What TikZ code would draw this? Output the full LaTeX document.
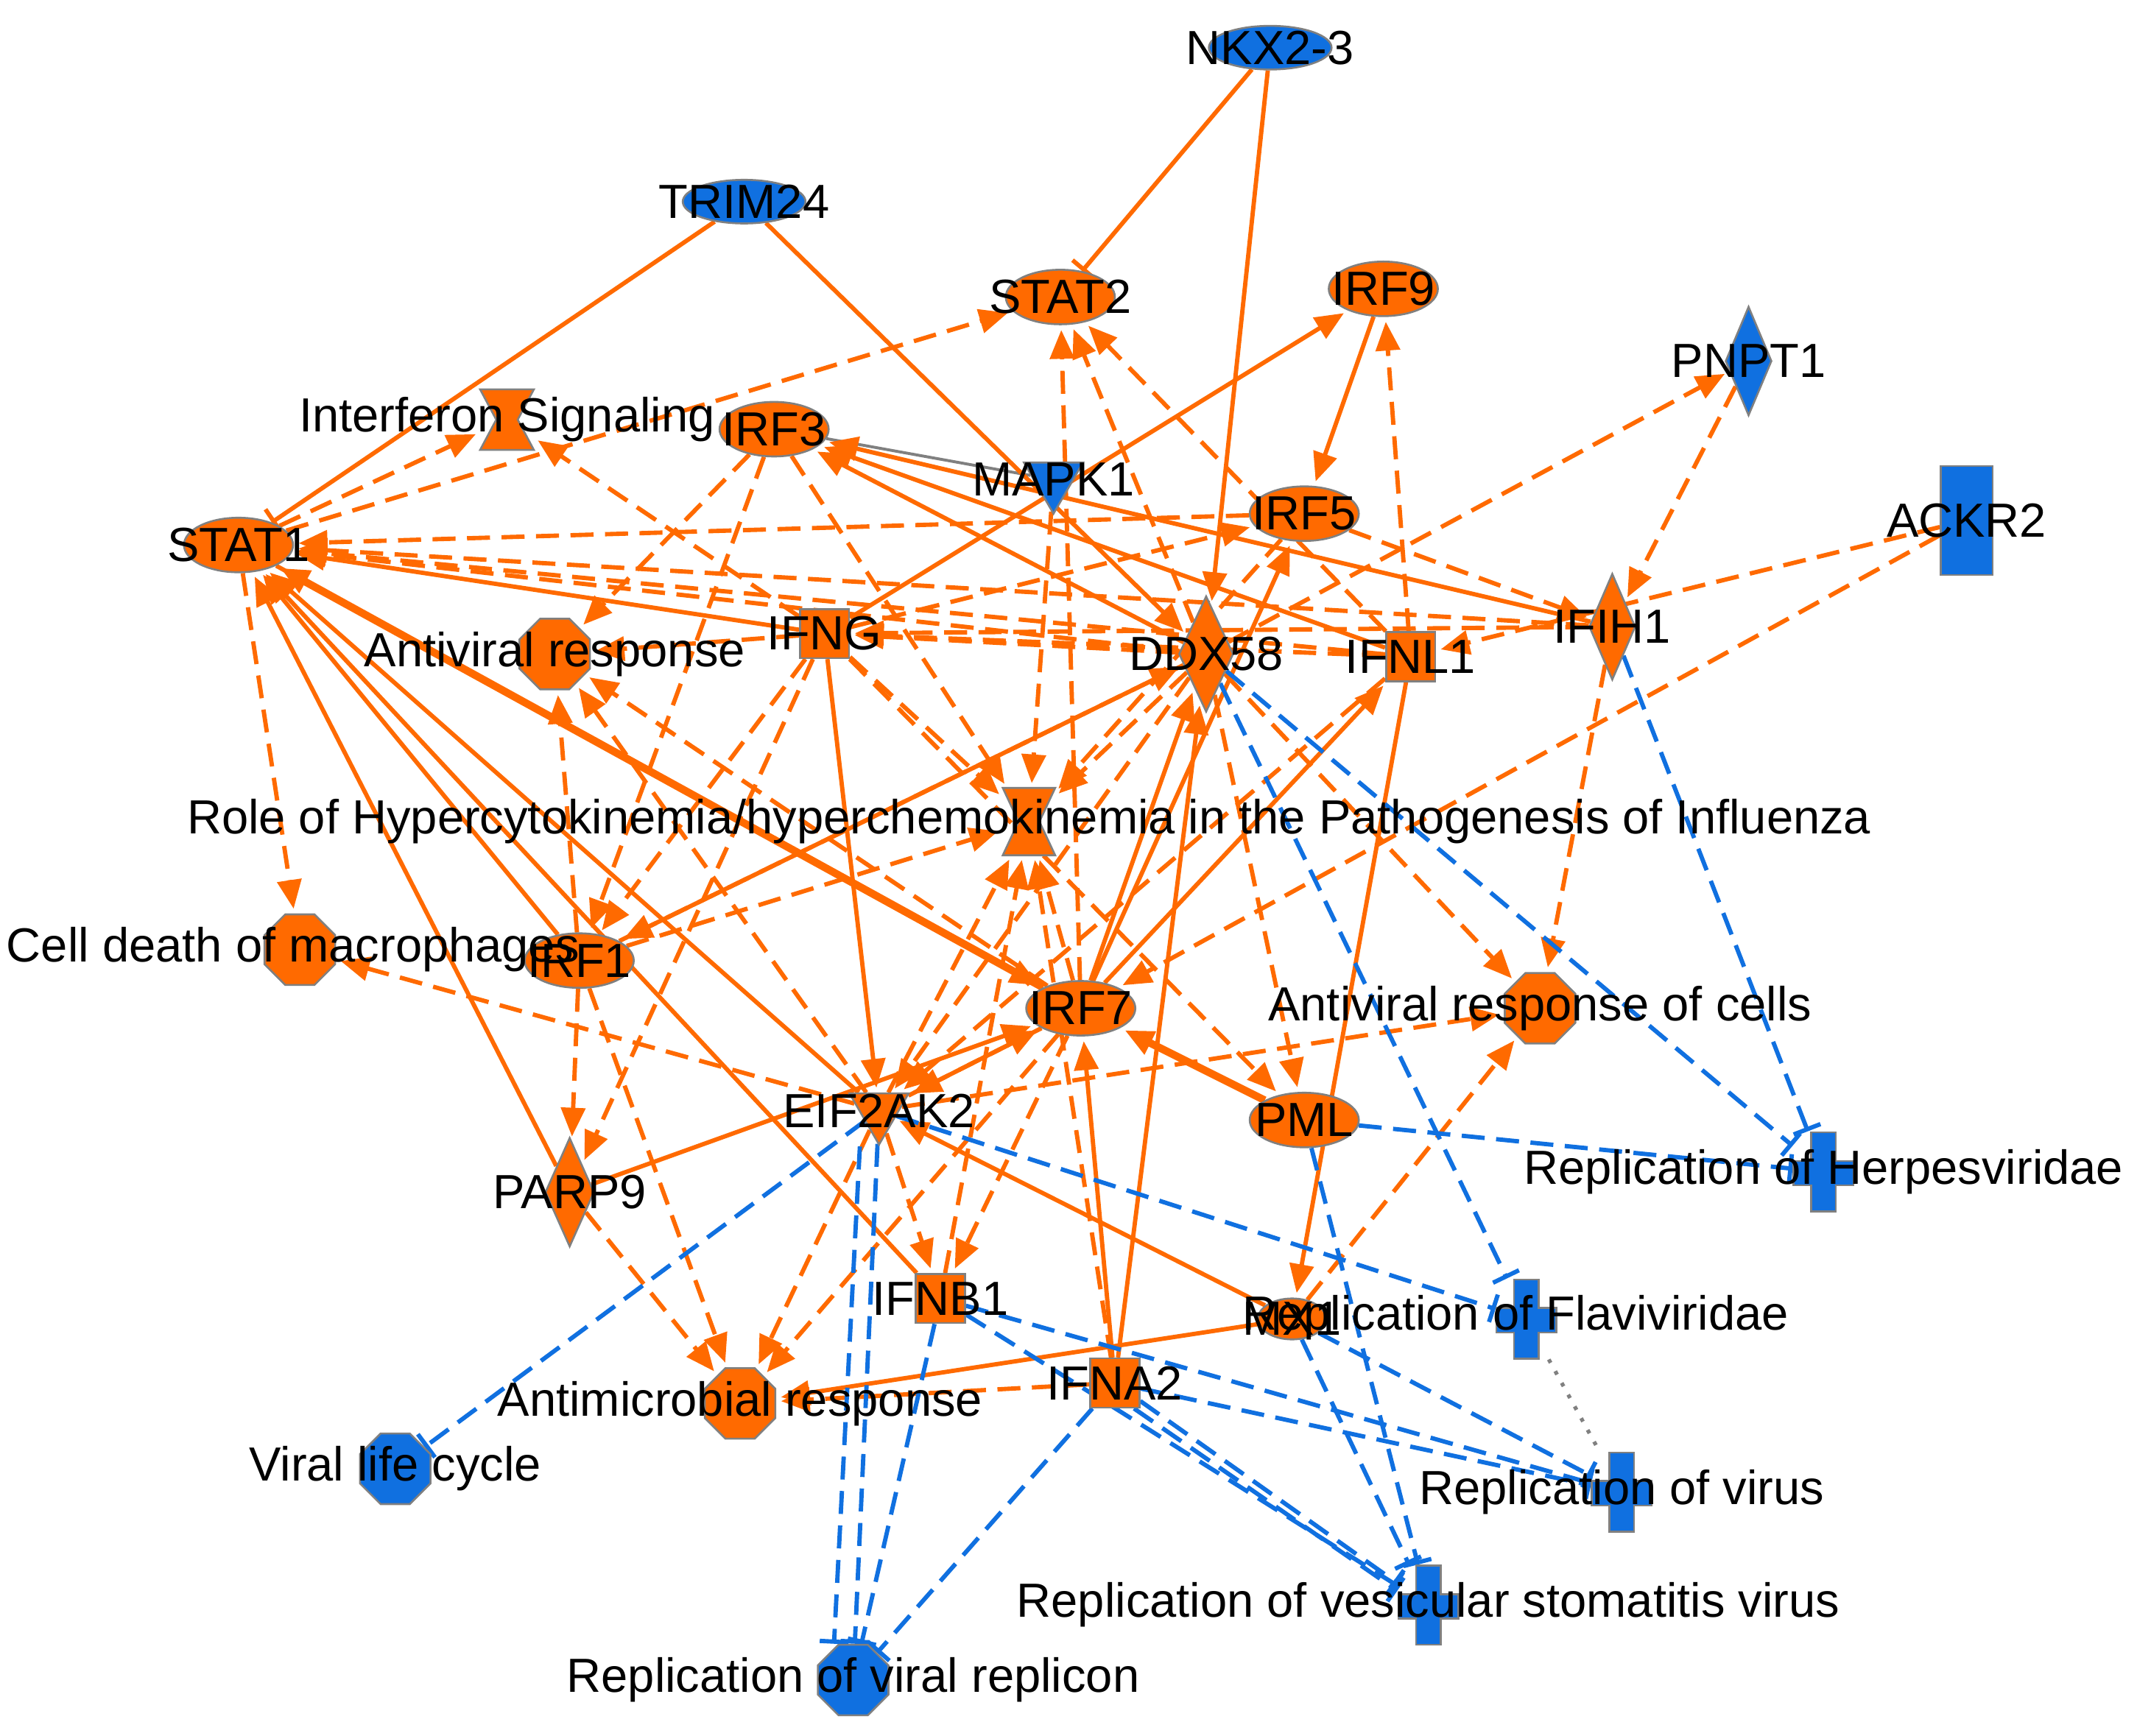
\documentclass[tikz,border=0pt]{standalone}
\usepackage{fontspec}
\setmainfont{Liberation Sans}
\usetikzlibrary{shapes.geometric,arrows.meta,calc}
\pgfdeclarelayer{bg}
\pgfsetlayers{bg,main}
\definecolor{orn}{RGB}{255,106,0}
\definecolor{blu}{RGB}{16,112,224}
\tikzset{
 ell/.style={ellipse,fill=#1,draw=gray,line width=0.4pt,minimum width=0.8cm,minimum height=0.4cm,inner sep=0pt},
 octo/.style={regular polygon,regular polygon sides=8,fill=#1,draw=gray,line width=0.4pt,minimum size=0.56cm,inner sep=0pt},
 sq/.style={rectangle,fill=orn,draw=gray,line width=0.4pt,minimum size=0.36cm,inner sep=0pt},
 dia/.style={diamond,fill=#1,draw=gray,line width=0.4pt,minimum width=0.4cm,minimum height=0.85cm,inner sep=0pt},
 tri/.style={regular polygon,regular polygon sides=3,shape border rotate=180,fill=#1,draw=gray,line width=0.4pt,minimum size=0.5cm,inner sep=0pt},
 box/.style={rectangle,inner sep=0pt,minimum width=#1},
 lbl/.style={font=\fontsize{10}{12}\selectfont,inner sep=0pt},
 os/.style={orn,line width=0.9pt,-{Triangle[length=6pt,width=5pt]},shorten >=1pt},
 od/.style={os,dash pattern=on 4.8pt off 2.4pt},
 obar/.style={orn,line width=0.9pt,-{Bar[width=6pt]}},
 bb/.style={blu,line width=0.9pt,dash pattern=on 4.8pt off 2.4pt,-{Bar[width=6pt]}},
}
\newcommand\hglass[1]{\filldraw[fill=orn,draw=gray,line width=0.4pt] (#1.north west) -- (#1.north east) -- ($(#1.east)!0.3!(#1.west)$) -- (#1.south east) -- (#1.south west) -- ($(#1.west)!0.3!(#1.east)$) -- cycle;}
\newcommand\pluss[1]{\filldraw[fill=blu,draw=gray,line width=0.4pt] ($(#1)+(-0.09cm,0.29cm)$) -- ($(#1)+(0.09cm,0.29cm)$) -- ($(#1)+(0.09cm,0.08cm)$) -- ($(#1)+(0.22cm,0.08cm)$) -- ($(#1)+(0.22cm,-0.1cm)$) -- ($(#1)+(0.09cm,-0.1cm)$) -- ($(#1)+(0.09cm,-0.29cm)$) -- ($(#1)+(-0.09cm,-0.29cm)$) -- ($(#1)+(-0.09cm,-0.1cm)$) -- ($(#1)+(-0.22cm,-0.1cm)$) -- ($(#1)+(-0.22cm,0.08cm)$) -- ($(#1)+(-0.09cm,0.08cm)$) -- cycle;}
\begin{document}
\begin{tikzpicture}[x=0.01cm,y=-0.01cm]
\useasboundingbox (0,0) rectangle (1568,1274);
% shapes
\node[ell=blu,minimum width=0.9cm,minimum height=0.32cm] (nkx) at (932,35) {};
\node[ell=blu,minimum width=0.9cm,minimum height=0.32cm] (trim) at (546,148) {};
\node[ell=orn] (stat2) at (778,218) {};
\node[ell=orn] (irf9) at (1015,212) {};
\node[dia=blu,minimum width=0.34cm,minimum height=0.8cm] (pnpt) at (1283,265) {};
\node[box=0.38cm,minimum height=0.43cm] (ifs) at (372,308) {}; \hglass{ifs}
\node[ell=orn] (irf3) at (568,315) {};
\node[tri=blu] (mapk) at (773,352) {};
\node[ell=orn] (irf5) at (957,377) {};
\node[rectangle,fill=blu,draw=gray,minimum width=0.38cm,minimum height=0.8cm,inner sep=0pt] (ackr) at (1443,382) {};
\node[ell=orn] (stat1) at (175,400) {};
\node[sq] (ifng) at (605,465) {};
\node[octo=orn] (avr) at (407,480) {};
\node[dia=orn] (ddx) at (885,480) {};
\node[sq] (ifnl) at (1035,482) {};
\node[dia=orn,minimum height=0.78cm,minimum width=0.34cm] (ifih) at (1183,460) {};
\node[box=0.37cm,minimum height=0.48cm] (role) at (755,603) {}; \hglass{role}
\node[octo=orn] (cdm) at (220,697) {};
\node[ell=orn] (irf1) at (425,705) {};
\node[ell=orn] (irf7) at (793,740) {};
\node[octo=orn] (avc) at (1130,740) {};
\node[ell=orn] (pml) at (957,822) {};
\node[tri=orn] (eif) at (645,815) {};
\node[dia=orn,minimum height=0.8cm,minimum width=0.36cm] (parp) at (418,875) {};
\node[box=0.44cm,minimum height=0.58cm] (herp) at (1338,860) {}; \pluss{herp}
\node[sq] (ifnb) at (690,953) {};
\node[ell=orn,minimum width=0.5cm,minimum height=0.3cm] (mx1) at (948,968) {};
\node[box=0.44cm,minimum height=0.58cm] (flav) at (1120,968) {}; \pluss{flav}
\node[octo=orn] (amr) at (543,1030) {};
\node[sq] (ifna) at (818,1015) {};
\node[octo=blu] (vlc) at (290,1078) {};
\node[box=0.44cm,minimum height=0.58cm] (rov) at (1190,1095) {}; \pluss{rov}
\node[box=0.44cm,minimum height=0.58cm] (vsv) at (1048,1178) {}; \pluss{vsv}
\node[octo=blu] (repl) at (626,1233) {};
% edges
\begin{pgfonlayer}{bg}
\draw[obar] (nkx) -- (stat2);
\draw[obar] (trim) -- (stat1);
\draw[gray,line width=0.6pt] (irf3) -- (mapk);
\foreach \a/\b in {nkx/ddx,trim/ddx,irf9/irf5,ifng/irf9,ddx/irf3,ifnl/irf3,ifih/irf3,ifng/stat1,parp/stat1,irf1/stat1,ifnb/stat1,eif/stat1,irf7/ddx,irf7/irf5,irf7/ifnl,ifna/irf7,eif/irf7,ifna/ddx,irf1/ddx,parp/irf7,ifng/eif,mx1/eif,ifnl/mx1,mx1/amr}
  \draw[os] (\a) -- (\b);
\draw[os,line width=1.6pt] (irf7) -- (stat1);
\draw[os,line width=1.6pt] (pml) -- (irf7);
\foreach \a/\b in {stat1/ifs,stat1/stat2,stat1/cdm,ifng/avr,irf1/avr,irf7/avr,eif/avr,irf3/avr,irf3/irf1,ifng/ifs,ddx/stat1,ifnl/stat1,ifih/stat1,irf5/stat1,irf7/stat2,ddx/stat2,ifnl/stat2,ifnl/irf9,ifng/irf5,ifnl/ifng,ddx/ifng,ifih/ifng,pnpt/ifih,ddx/pnpt,ackr/ifnl,ackr/irf7,ifih/avc,ddx/avc,eif/avc,mx1/avc,irf5/ifih,ifng/role,irf3/role,mapk/role,ddx/role,irf5/role,irf7/role,eif/role,ifnb/role,ifna/role,irf1/role,parp/amr,irf1/amr,eif/amr,irf7/amr,ifna/amr,irf1/parp,ifng/parp,ifng/irf1,eif/cdm,irf7/eif,ddx/eif,ifnl/eif,irf7/ifnb,eif/ifnb,ddx/pml,ifng/pml,ddx/irf1,stat1/irf7}
  \draw[od] (\a) -- (\b);
\foreach \a/\b in {ddx/herp,ifih/herp,pml/herp,ddx/flav,eif/flav,ifnb/rov,ifna/rov,mx1/rov,pml/vsv,mx1/vsv,ifna/vsv,ifnb/vsv,eif/vlc,eif/repl,ifnb/repl,ifna/repl}
  \draw[bb] (\a) -- (\b);
\draw[bb] ([xshift=4pt]ifna.south) -- ([yshift=3pt]vsv.west);
\draw[bb] ([xshift=-4pt]eif.south) -- ([xshift=-4pt]repl.north);
\draw[gray,dotted,line width=0.8pt] (flav) -- (rov);
\end{pgfonlayer}
% labels
\foreach \n/\t in {nkx/NKX2-3,trim/TRIM24,stat2/STAT2,irf9/IRF9,pnpt/PNPT1,ifs/Interferon Signaling,irf3/IRF3,mapk/MAPK1,irf5/IRF5,ackr/ACKR2,stat1/STAT1,ifng/IFNG,avr/Antiviral response,ddx/DDX58,ifnl/IFNL1,ifih/IFIH1,role/Role of Hypercytokinemia\slash hyperchemokinemia in the Pathogenesis of Influenza,irf1/IRF1,irf7/IRF7,avc/Antiviral response of cells,pml/PML,eif/EIF2AK2,parp/PARP9,herp/Replication of Herpesviridae,ifnb/IFNB1,mx1/MX1,amr/Antimicrobial response,ifna/IFNA2,vlc/Viral life cycle,rov/Replication of virus,vsv/Replication of vesicular stomatitis virus,repl/Replication of viral replicon}
  \node[lbl] at (\n) {\t};
\node[lbl] at (215,697) {Cell death of macrophages};
\node[lbl] at (1112,967) {Replication of Flaviviridae};
\end{tikzpicture}
\end{document}
